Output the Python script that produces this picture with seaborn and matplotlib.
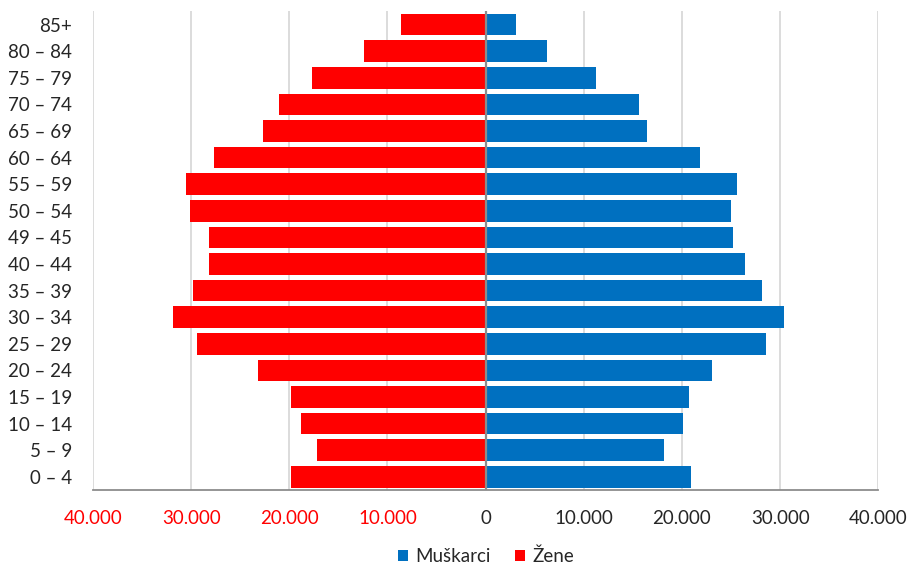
import pandas as pd
import matplotlib
matplotlib.use('Agg')
import matplotlib.pyplot as plt
import matplotlib.ticker as mticker
import seaborn as sns

# age groups, top to bottom as in the chart
ageGroups = ['85+', '80 – 84', '75 – 79', '70 – 74', '65 – 69', '60 – 64', '55 – 59',
             '50 – 54', '49 – 45', '40 – 44', '35 – 39', '30 – 34', '25 – 29',
             '20 – 24', '15 – 19', '10 – 14', '5 – 9', '0 – 4']

# population per group
muskarci = [3100, 6250, 11200, 15600, 16400, 21800, 25600, 25000, 25200, 26400,
            28200, 30400, 28600, 23100, 20700, 20100, 18200, 20900]
zene = [8600, 12400, 17700, 21100, 22700, 27700, 30500, 30100, 28150, 28200,
        29850, 31900, 29450, 23200, 19800, 18850, 17200, 19850]

xTicks = [-40000, -30000, -20000, -10000, 0, 10000, 20000, 30000, 40000]

# long table for seaborn, women drawn on the negative side
df = pd.concat([
    pd.DataFrame({'dob': ageGroups, 'broj': muskarci, 'spol': 'Muškarci'}),
    pd.DataFrame({'dob': ageGroups, 'broj': [-v for v in zene], 'spol': 'Žene'}),
])

sns.set_style('white')
plt.rcParams['font.family'] = ['Lato', 'DejaVu Sans']
textColor = '#262626'

fig = plt.figure(figsize=(9.12, 5.64), dpi=100)
ax = fig.add_axes([0.102, 0.131, 0.861, 0.849])

sns.barplot(data=df, y='dob', x='broj', hue='spol', order=ageGroups,
            hue_order=['Muškarci', 'Žene'], palette=['#0070C0', '#FF0000'],
            saturation=1, dodge=False, width=0.81, orient='h', linewidth=0, ax=ax)

ax.set_xlim(-40000, 40000)
ax.set_xticks(xTicks)
ax.xaxis.set_major_formatter(mticker.FuncFormatter(lambda v, p: f'{abs(int(v)):,}'.replace(',', '.')))
ax.grid(axis='x', color='#d9d9d9', linewidth=1.3)
ax.set_axisbelow(True)
ax.axvline(0, color='#8c8c8c', linewidth=1.6, zorder=3)

for side in ['top', 'right', 'left']:
    ax.spines[side].set_visible(False)
ax.spines['bottom'].set_color('#8c8c8c')
ax.spines['bottom'].set_linewidth(1.3)

ax.tick_params(axis='x', length=0, pad=14, labelsize=13.5, labelcolor=textColor)
ax.tick_params(axis='y', length=0, pad=15, labelsize=13.5, labelcolor=textColor)
for lbl, val in zip(ax.get_xticklabels(), xTicks):
    if val < 0:
        lbl.set_color('#FF0000')

ax.set_xlabel('')
ax.set_ylabel('')

handles, labels = ax.get_legend_handles_labels()
ax.legend_.remove()
leg = fig.legend(handles, labels, loc='center', bbox_to_anchor=(0.533, 0.014),
                 ncol=2, frameon=False, fontsize=13.5, handlelength=0.55, handleheight=0.55,
                 handletextpad=0.4, columnspacing=1.3, labelcolor=textColor)

fig.savefig('out.png', dpi=100)
